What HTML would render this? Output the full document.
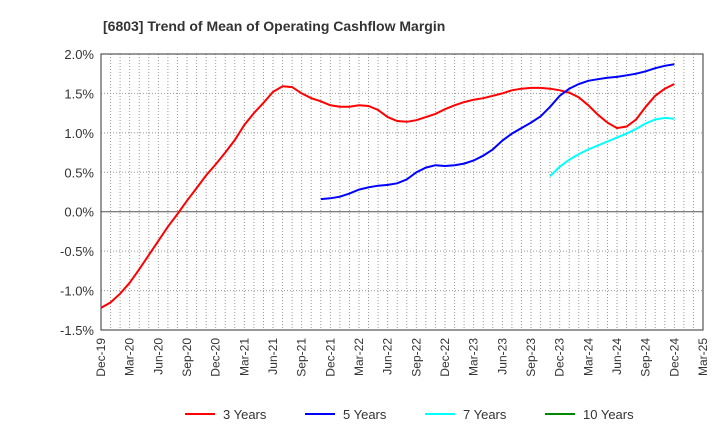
<!DOCTYPE html>
<html><head><meta charset="utf-8"><style>
body{margin:0;background:#fff;font-family:"Liberation Sans",sans-serif}
svg text{font-family:"Liberation Sans",sans-serif;fill:#333}
</style></head><body>
<svg id="c" width="720" height="440" xmlns="http://www.w3.org/2000/svg">
<text x="103" y="31" font-size="14" font-weight="bold">[6803]  Trend of Mean of Operating Cashflow Margin</text>
<g id="grid"></g><g id="axes"></g><g id="lines"></g><g id="legend"></g>
</svg>
<script>
const yTicks=[2.0,1.5,1.0,0.5,0.0,-0.5,-1.0,-1.5];
const xLabels=["Dec-19","Mar-20","Jun-20","Sep-20","Dec-20","Mar-21","Jun-21","Sep-21","Dec-21","Mar-22","Jun-22","Sep-22","Dec-22","Mar-23","Jun-23","Sep-23","Dec-23","Mar-24","Jun-24","Sep-24","Dec-24","Mar-25"];
const y3=[-1.22,-1.15,-1.04,-0.90,-0.73,-0.55,-0.37,-0.19,-0.03,0.14,0.30,0.46,0.60,0.75,0.91,1.10,1.25,1.38,1.52,1.59,1.58,1.50,1.44,1.40,1.35,1.33,1.33,1.35,1.34,1.29,1.20,1.15,1.14,1.16,1.20,1.24,1.30,1.35,1.39,1.42,1.44,1.47,1.50,1.54,1.56,1.57,1.57,1.56,1.54,1.51,1.45,1.35,1.23,1.13,1.06,1.08,1.17,1.33,1.47,1.56,1.62];
const y5start=23;
const y5=[0.16,0.17,0.19,0.23,0.28,0.31,0.33,0.34,0.36,0.41,0.50,0.56,0.59,0.58,0.59,0.61,0.65,0.71,0.79,0.90,0.99,1.06,1.13,1.21,1.33,1.47,1.56,1.62,1.66,1.68,1.70,1.71,1.73,1.75,1.78,1.82,1.85,1.87];
const y7start=47;
const y7=[0.45,0.57,0.66,0.73,0.79,0.84,0.89,0.94,0.99,1.05,1.12,1.17,1.19,1.18];
const L=101,R=703,T=54,B=330,NS="http://www.w3.org/2000/svg";
const X=m=>L+(R-L)*m/63, Y=v=>T+(2-v)*(B-T)/3.5;
function mk(t,a,p){const e=document.createElementNS(NS,t);for(const k in a)e.setAttribute(k,a[k]);p.appendChild(e);return e;}
const g=document.getElementById('grid'),ax=document.getElementById('axes'),ln=document.getElementById('lines'),lg=document.getElementById('legend');
for(let m=1;m<63;m++){const e=mk('line',{x1:X(m),x2:X(m),y1:T,y2:B,stroke:'#999','stroke-dasharray':'1,2','stroke-width':1},g);

}
yTicks.forEach(v=>{const e=mk('line',{x1:L,x2:R,y1:Y(v),y2:Y(v),stroke:v===0?'#555':'#999','stroke-dasharray':v===0?'':'1,2'},g);


const t=mk('text',{x:L-7,y:Y(v)+5,'text-anchor':'end','font-size':13},ax);t.textContent=v.toFixed(1)+'%';

});
xLabels.forEach((s,i)=>{const x=X(i*3);const t=mk('text',{transform:`translate(${x+4},${B+8}) rotate(-90)`,'text-anchor':'end','font-size':12},ax);t.textContent=s;

});
const fr=mk('rect',{x:L,y:T,width:R-L,height:B-T,fill:'none',stroke:'#333'},ax);


function series(arr,start,col,name){const d=arr.map((v,i)=>(i?'L':'M')+X(start+i).toFixed(1)+','+Y(v).toFixed(1)).join('');
const p=mk('path',{d:d,fill:'none',stroke:col,'stroke-width':2},ln);

}
series(y3,0,'#f00','line-3-years');series(y5,y5start,'#00f','line-5-years');series(y7,y7start,'#0ff','line-7-years');
const leg=[['3 Years','#f00',185],['5 Years','#00f',305],['7 Years','#0ff',425],['10 Years','#080',545]];
leg.forEach(([s,c,x])=>{const l=mk('line',{x1:x,x2:x+30,y1:414,y2:414,stroke:c,'stroke-width':2},lg);


const t=mk('text',{x:x+38,y:419,'font-size':13},lg);t.textContent=s;

});
</script>
</body></html>
